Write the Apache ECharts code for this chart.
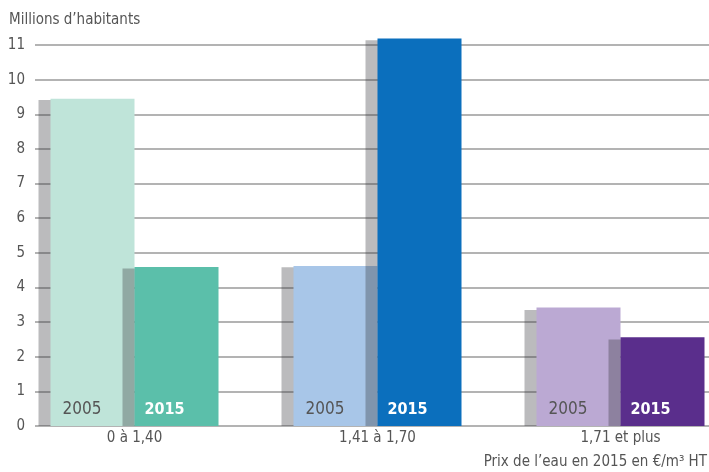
<!DOCTYPE html>
<html>
<head>
<meta charset="utf-8">
<script src="https://cdn.jsdelivr.net/npm/echarts@6/dist/echarts.min.js"></script>
<style>
html,body{margin:0;padding:0;background:#fff;}
#chart{width:709px;height:472px;}
</style>
</head>
<body>
<div id="chart"></div>
<script>
// ---- data ----
const categories = ['0 à 1,40', '1,41 à 1,70', '1,71 et plus'];
const values2005 = [9.45, 4.62, 3.42];
const values2015 = [4.59, 11.19, 2.56];
const shadow2005 = [9.41, 4.58, 3.35];
const shadow2015 = [4.55, 11.14, 2.50];
const yTicks = [0, 1, 2, 3, 4, 5, 6, 7, 8, 9, 10, 11];
const colors2005 = ['#bfe4d9', '#a8c6e8', '#bba9d3'];
const colors2015 = ['#5bbfaa', '#0b6fbd', '#5a2e8c'];
const yTitle = 'Millions d’habitants';
const xTitle = 'Prix de l’eau en 2015 en €/m³ HT';

const FONT = "'Liberation Sans Narrow', 'DejaVu Sans Condensed', 'Roboto', sans-serif";
const chart = echarts.init(document.getElementById('chart'));

const yMin = yTicks[0];
const yMax = 11.3; // headroom above the last tick (11) for the tallest bar
const unitPx = 34.6;
const gridBottom = 46;
const gridTop = 45 - (yMax - yTicks[yTicks.length - 1]) * unitPx;
const shadowColor = 'rgba(50,50,55,0.33)';

const mkY = (idx, show) => ({
  type: 'value', gridIndex: idx, min: yMin, max: yMax, interval: 1,
  show: show,
  axisLine: {show: false}, axisTick: {show: false},
  axisLabel: {show: show, showMaxLabel: false, color: '#555', fontFamily: FONT, fontSize: 15, margin: 10},
  splitLine: {show: show, showMaxLine: false, lineStyle: {color: '#9a9a9a', width: 1.5}}
});

const option = {
  animation: false,
  backgroundColor: '#fff',
  grid: [
    {left: 35, right: 0, top: gridTop, bottom: gridBottom, outerBoundsMode: 'none'},
    {left: 13, width: 729, top: gridTop, bottom: gridBottom, outerBoundsMode: 'none'},
    {left: 1, width: 729, top: gridTop, bottom: gridBottom, outerBoundsMode: 'none'}
  ],
  xAxis: [
    {type: 'category', gridIndex: 0, data: categories, show: false},
    {type: 'category', gridIndex: 1, data: categories,
      axisLine: {show: false}, axisTick: {show: false},
      axisLabel: {color: '#555', fontFamily: FONT, fontSize: 15, margin: 5}},
    {type: 'category', gridIndex: 2, data: categories, show: false}
  ],
  yAxis: [mkY(0, true), mkY(1, false), mkY(2, false)],
  graphic: [
    {type: 'text', left: 9, top: 13, style: {text: yTitle, fill: '#555', font: '15px ' + FONT}},
    {type: 'text', right: 2, top: 455, style: {text: xTitle, fill: '#555', font: '15px ' + FONT}}
  ],
  series: [
    {
      name: 'shadow2005', type: 'bar', xAxisIndex: 2, yAxisIndex: 2, z: 1,
      barWidth: 84, barGap: 0,
      data: shadow2005, itemStyle: {color: shadowColor}, silent: true
    },
    {
      name: '2005', type: 'bar', xAxisIndex: 1, yAxisIndex: 1, z: 2,
      barWidth: 84, barGap: 0,
      data: values2005.map((v, i) => ({value: v, itemStyle: {color: colors2005[i]}})),
      label: {show: true, position: [12, '100%'], align: 'left', verticalAlign: 'bottom', offset: [0, -8],
        formatter: '2005', color: '#555', fontFamily: FONT, fontSize: 17}
    },
    {
      name: 'shadow2015', type: 'bar', xAxisIndex: 2, yAxisIndex: 2, z: 3,
      barWidth: 84, barGap: 0,
      data: shadow2015, itemStyle: {color: shadowColor}, silent: true
    },
    {
      name: '2015', type: 'bar', xAxisIndex: 1, yAxisIndex: 1, z: 4,
      barWidth: 84, barGap: 0,
      data: values2015.map((v, i) => ({value: v, itemStyle: {color: colors2015[i]}})),
      label: {show: true, position: [10, '100%'], align: 'left', verticalAlign: 'bottom', offset: [0, -8],
        formatter: '2015', color: '#fff', fontWeight: 'bold', fontFamily: FONT, fontSize: 16}
    }
  ]
};
chart.setOption(option);
</script>
</body>
</html>
